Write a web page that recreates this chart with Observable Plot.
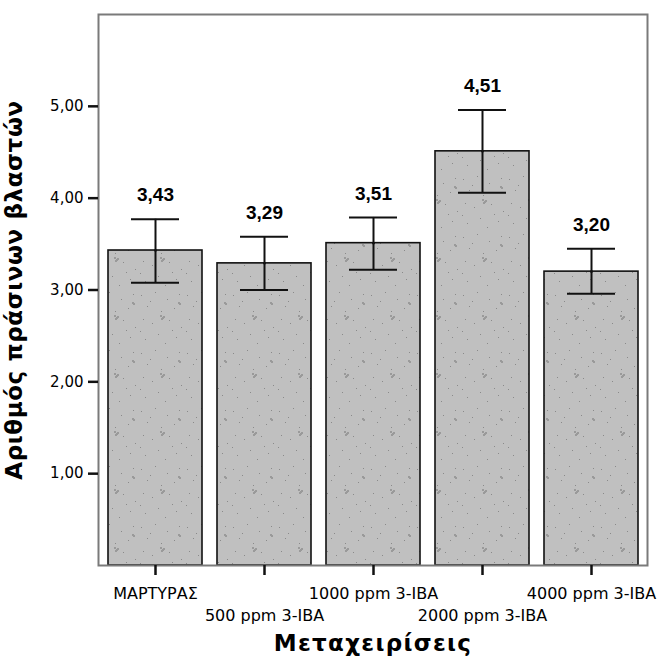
<!DOCTYPE html>
<html>
<head>
<meta charset="utf-8">
<script src="https://cdn.jsdelivr.net/npm/d3@7"></script>
<script src="https://cdn.jsdelivr.net/npm/@observablehq/plot@0.6"></script>
<style>
  html, body { margin: 0; padding: 0; background: #fff; }
  #chart svg { display: block; }
</style>
</head>
<body>
<div id="chart"></div>
<script>
const categories = ["ΜΑΡΤΥΡΑΣ", "500 ppm 3-IBA", "1000 ppm 3-IBA", "2000 ppm 3-IBA", "4000 ppm 3-IBA"];
const means = [3.43, 3.29, 3.51, 4.51, 3.20];
const lower = [3.08, 3.00, 3.22, 4.06, 2.96];
const upper = [3.77, 3.58, 3.79, 4.96, 3.45];
const yTicks = [1, 2, 3, 4, 5];
const yTitle = "Αριθμός πράσινων βλαστών";
const xTitle = "Μεταχειρίσεις";

const data = categories.map((c, i) => ({cat: c, mean: means[i], lo: lower[i], hi: upper[i], i}));
const fmt = v => d3.format(".2f")(v).replace(".", ",");

const chart = Plot.plot({
  width: 657,
  height: 664,
  marginLeft: 98,
  marginRight: 10,
  marginTop: 14,
  marginBottom: 99,
  style: {fontFamily: "DejaVu Sans, sans-serif", color: "#000", background: "#fff"},
  x: {domain: categories, paddingInner: 0.14, paddingOuter: 0.07, label: null},
  y: {domain: [0, 6], label: null},
  marks: [
    Plot.barY(data, {x: "cat", y: "mean", fill: "url(#speckle)", stroke: "#111", strokeWidth: 1.6}),
    Plot.ruleX(data, {x: "cat", y1: "lo", y2: "hi", stroke: "#111", strokeWidth: 2}),
    Plot.tickY(data, {x: "cat", y: "lo", stroke: "#111", strokeWidth: 2, insetLeft: 23, insetRight: 23}),
    Plot.tickY(data, {x: "cat", y: "hi", stroke: "#111", strokeWidth: 2, insetLeft: 23, insetRight: 23}),
    Plot.dot(data, {x: "cat", y: "mean", r: 1.3, fill: "#111"}),
    Plot.text(data, {x: "cat", y: "hi", text: d => fmt(d.mean), dy: -24, fontWeight: "bold", fontSize: 19, fontFamily: "Liberation Sans, Arial, sans-serif", fill: "#000"}),
    Plot.frame({stroke: "#7a7a7a", strokeWidth: 2}),
    Plot.axisY({ticks: yTicks, tickFormat: fmt, tickSize: 10, tickPadding: 5, strokeWidth: 2.5, fontSize: 15, stroke: "#111", fill: "#000"}),
    Plot.axisX({tickFormat: () => "", tickSize: 10, strokeWidth: 2.5, stroke: "#111"}),
    Plot.text(data.filter(d => d.i % 2 === 0), {x: "cat", text: "cat", frameAnchor: "bottom", lineAnchor: "middle", dy: 28, fontSize: 16, fill: "#000"}),
    Plot.text(data.filter(d => d.i % 2 === 1), {x: "cat", text: "cat", frameAnchor: "bottom", lineAnchor: "middle", dy: 50, fontSize: 16, fill: "#000"}),
    Plot.text([yTitle], {text: d => d, frameAnchor: "left", textAnchor: "middle", lineAnchor: "middle", rotate: -90, dx: -84, fontSize: 23, fontWeight: "bold", fill: "#000"}),
    Plot.text([xTitle], {text: d => d, frameAnchor: "bottom", textAnchor: "middle", lineAnchor: "middle", dy: 78, fontSize: 23, fontWeight: "bold", fill: "#000"})
  ]
});

const svg = d3.select(chart);
svg.selectAll("text").filter(function() { return this.textContent === xTitle; }).attr("letter-spacing", "1.3px");
svg.selectAll("text").filter(function() { return this.textContent === yTitle; }).attr("letter-spacing", "0.6px");

// speckled texture for bar fill
const defs = svg.insert("defs", ":first-child");
const pat = defs.append("pattern").attr("id", "speckle").attr("patternUnits", "userSpaceOnUse")
  .attr("width", 46).attr("height", 58);
pat.append("rect").attr("width", 46).attr("height", 58).attr("fill", "#c0c0c0");
const specks = [[3,5],[17,2],[29,9],[41,4],[9,16],[23,21],[36,18],[5,29],[14,33],[31,30],[43,37],[20,44],[7,49],[27,53],[38,47],[12,11],[34,40],[2,41]];
specks.forEach(([sx, sy]) => pat.append("rect").attr("x", sx).attr("y", sy).attr("width", 1).attr("height", 1).attr("fill", "#8a8a8a"));
const blobs = [[22,25],[24,27],[23,28],[25,26],[40,12],[41,13]];
blobs.forEach(([sx, sy]) => pat.append("rect").attr("x", sx).attr("y", sy).attr("width", 2).attr("height", 2).attr("fill", "#9a9a9a"));

document.getElementById("chart").appendChild(chart);
</script>
</body>
</html>
